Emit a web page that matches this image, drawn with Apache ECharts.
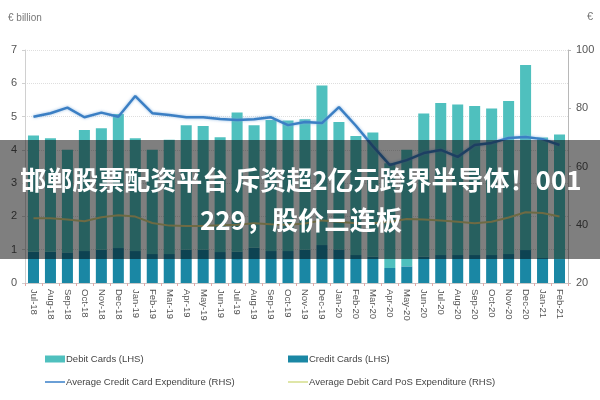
<!DOCTYPE html>
<html>
<head>
<meta charset="utf-8">
<script src="https://cdn.jsdelivr.net/npm/echarts@6.0.0/dist/echarts.min.js"></script>
<style>
html,body{margin:0;padding:0;background:#fff;}
#chart{width:600px;height:400px;}
</style>
</head>
<body>
<div id="chart"></div>
<script>
var categories = ['Jul-18','Aug-18','Sep-18','Oct-18','Nov-18','Dec-18','Jan-19','Feb-19','Mar-19','Apr-19','May-19','Jun-19','Jul-19','Aug-19','Sep-19','Oct-19','Nov-19','Dec-19','Jan-20','Feb-20','Mar-20','Apr-20','May-20','Jun-20','Jul-20','Aug-20','Sep-20','Oct-20','Nov-20','Dec-20','Jan-21','Feb-21'];
var creditCards = [0.94,0.94,0.92,0.96,1.0,1.05,0.96,0.87,0.87,1.0,1.0,0.93,0.94,1.06,0.96,0.96,1.0,1.14,1.01,0.84,0.79,0.45,0.5,0.79,0.84,0.84,0.84,0.84,0.87,0.99,0.75,0.72];
var debitCards = [3.49,3.41,3.08,3.64,3.65,4.03,3.39,3.13,3.43,3.74,3.72,3.45,4.18,3.68,3.94,3.92,3.92,4.79,3.83,3.58,3.73,3.15,3.5,4.30,4.57,4.52,4.48,4.40,4.60,5.56,3.62,3.74];
var avgCreditExp = [77.1,78.3,80.2,76.9,78.5,77.1,84.2,78.3,77.7,76.9,76.9,76.3,76.0,76.2,76.9,74.2,75.3,74.9,80.4,74.0,67.0,60.5,62.2,64.6,65.7,63.3,67.4,68.1,69.8,70.1,69.4,67.4];
var avgDebitPosExp = [42.2,42.2,41.8,41.2,42.6,43.3,42.8,40.6,39.7,39.6,39.6,39.8,40.0,40.5,40.2,40.0,40.4,41.5,41.0,40.5,40.5,41.0,42.0,41.8,41.5,41.0,40.5,41.0,42.5,44.3,44.0,42.8];
var leftTicks = {min:0, max:7, interval:1};
var rightTicks = {min:20, max:100, interval:20};
var overlayLines = ['邯郸股票配资平台 斥资超2亿元跨界半导体！001', '229，股价三连板'];

var narrow = '"Liberation Sans", Arial, sans-serif';
var lineIcon = 'path://M0,0H20V2H0Z';
var chart = echarts.init(document.getElementById('chart'), null, {renderer:'canvas'});
chart.setOption({
  animation:false,
  backgroundColor:'#fff',
  grid:{left:25, right:32, top:50, bottom:117, containLabel:false},
  xAxis:{
    type:'category', data:categories,
    axisLine:{lineStyle:{color:'#c8c8c8'}},
    axisTick:{show:true, length:3, lineStyle:{color:'#e4a8a8'}},
    axisLabel:{rotate:-90, fontSize:9.5, color:'#555', margin:6, fontFamily:narrow}
  },
  yAxis:[
    {type:'value', min:leftTicks.min, max:leftTicks.max, interval:leftTicks.interval,
     axisLine:{show:true, lineStyle:{color:'#d0d0d0'}},
     axisTick:{show:true, length:3, lineStyle:{color:'#d0d0d0'}},
     axisLabel:{fontSize:11, color:'#555', margin:8, fontFamily:narrow},
     splitLine:{show:true, lineStyle:{color:'#dedede', type:'dotted'}}},
    {type:'value', min:rightTicks.min, max:rightTicks.max, interval:rightTicks.interval, position:'right',
     axisLine:{show:true, lineStyle:{color:'#b8b8b8'}},
     axisTick:{show:true, length:3, lineStyle:{color:'#b8b8b8'}},
     axisLabel:{fontSize:11, color:'#555', margin:8, fontFamily:narrow},
     splitLine:{show:false}}
  ],
  legend:[
    {left:40, top:349, orient:'vertical', itemGap:13, itemWidth:20, itemHeight:7, symbolKeepAspect:true,
     textStyle:{fontSize:9.5, color:'#444', fontFamily:narrow, padding:[0,0,0,-4]},
     data:[{name:'Debit Cards (LHS)', icon:'rect'},{name:'Average Credit Card Expenditure (RHS)', icon:lineIcon}]},
    {left:283, top:349, orient:'vertical', itemGap:13, itemWidth:20, itemHeight:7, symbolKeepAspect:true,
     textStyle:{fontSize:9.5, color:'#444', fontFamily:narrow, padding:[0,0,0,-4]},
     data:[{name:'Credit Cards (LHS)', icon:'rect'},{name:'Average Debit Card PoS Expenditure (RHS)', icon:lineIcon}]}
  ],
  series:[
    {name:'Credit Cards (LHS)', type:'bar', stack:'cards', data:creditCards, barCategoryGap:'35%',
     itemStyle:{color:'#1a87a4'}},
    {name:'Debit Cards (LHS)', type:'bar', stack:'cards', data:debitCards,
     itemStyle:{color:'#4fc0be'}},
    {name:'Average Credit Card Expenditure (RHS)', type:'line', yAxisIndex:1, data:avgCreditExp,
     symbol:'none', lineStyle:{color:'#3b7fc4', width:2.5, shadowColor:'rgba(120,170,220,0.8)', shadowBlur:3},
     itemStyle:{color:'#6a9fd6'}},
    {name:'Average Debit Card PoS Expenditure (RHS)', type:'line', yAxisIndex:1, data:avgDebitPosExp,
     symbol:'none', lineStyle:{color:'#dcd486', width:2},
     itemStyle:{color:'#dfe6a8'}}
  ],
  graphic:[
    {type:'text', left:8, top:13, style:{text:'€ billion', fontSize:10, fill:'#777', fontFamily:narrow}},
    {type:'text', left:587, top:11, style:{text:'€', fontSize:11, fill:'#777', fontFamily:narrow}},
    {type:'rect', z:100, shape:{x:0, y:140, width:600, height:119}, style:{fill:'rgba(0,0,0,0.5)'}},
    {type:'text', z:101, x:301, y:200, style:{text:overlayLines.join('\n'), align:'center', verticalAlign:'middle',
      fontSize:26, fontWeight:'bold', fontFamily:'"Noto Sans CJK SC", sans-serif', fill:'#fff', lineHeight:40}}
  ]
});
</script>
</body>
</html>
